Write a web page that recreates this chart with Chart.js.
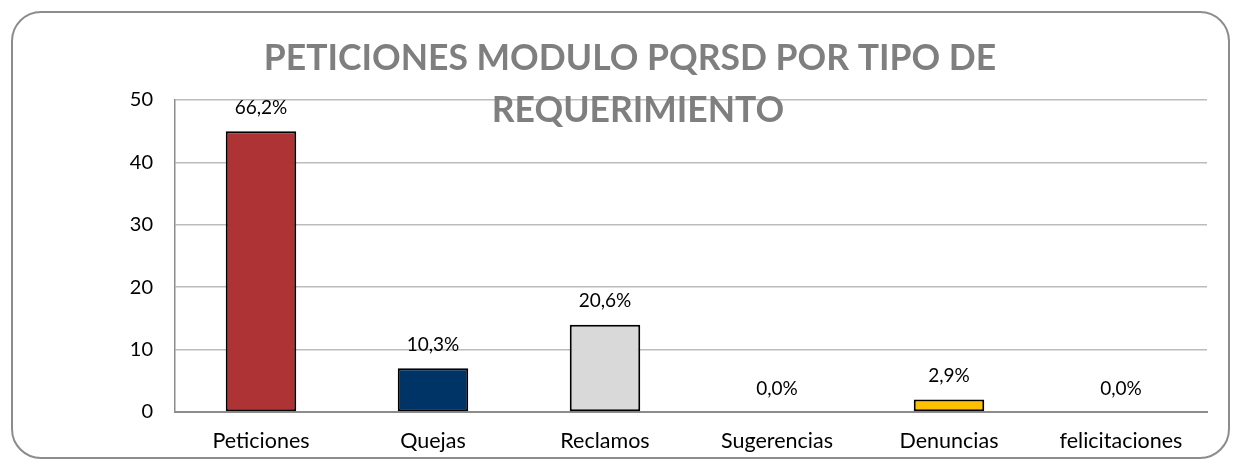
<!DOCTYPE html>
<html>
<head>
<meta charset="utf-8">
<script src="https://cdn.jsdelivr.net/npm/chart.js@4/dist/chart.umd.min.js"></script>
<style>
  html, body { margin: 0; padding: 0; background: #fff; }
  .wrap { position: relative; width: 1240px; height: 468px; }
  .frame { position: absolute; left: 11px; top: 11px; width: 1219px; height: 448px;
           border: 2px solid #8c8c8c; border-radius: 30px; box-sizing: border-box; }
  canvas { position: absolute; left: 0; top: 0; }
</style>
</head>
<body>
<div class="wrap">
  <div class="frame"></div>
  <canvas id="chart" width="1240" height="468"></canvas>
</div>
<script>
// Chart data
const categories = ['Peticiones', 'Quejas', 'Reclamos', 'Sugerencias', 'Denuncias', 'felicitaciones'];
const counts = [45, 7, 14, 0, 2, 0];
const barColors = ['#ad3334', '#003366', '#d9d9d9', '#d9d9d9', '#ffc000', '#d9d9d9'];
const yTicks = [0, 10, 20, 30, 40, 50];
const titleLines = ['PETICIONES MODULO PQRSD POR TIPO DE', 'REQUERIMIENTO'];

const total = counts.reduce((a, b) => a + b, 0);
const pct = v => (v / total * 100).toFixed(1).replace('.', ',') + '%';

const FONT = 'Lato, Calibri, sans-serif';

// percentage labels above each bar
const pctLabels = {
  id: 'pctLabels',
  afterDatasetsDraw(chart) {
    const ctx = chart.ctx;
    const meta = chart.getDatasetMeta(0);
    ctx.save();
    ctx.fillStyle = '#000';
    ctx.font = '19px ' + FONT;
    ctx.textAlign = 'center';
    ctx.textBaseline = 'bottom';
    meta.data.forEach((bar, i) => {
      ctx.fillText(pct(counts[i]), bar.x, bar.y - 14);
    });
    ctx.restore();
  }
};

// overlaid title like the Excel original
const overlayTitle = {
  id: 'overlayTitle',
  afterDraw(chart) {
    const ctx = chart.ctx;
    ctx.save();
    ctx.fillStyle = '#7f7f7f';
    ctx.font = 'bold 35.5px ' + FONT;
    ctx.textAlign = 'center';
    ctx.textBaseline = 'middle';
    ctx.fillText(titleLines[0], 630, 59);
    ctx.fillText(titleLines[1], 638, 111);
    ctx.restore();
  }
};

new Chart(document.getElementById('chart').getContext('2d'), {
  type: 'bar',
  data: {
    labels: categories,
    datasets: [{
      data: counts,
      backgroundColor: barColors,
      borderColor: '#000',
      borderWidth: ctx => (counts[ctx.dataIndex] > 0 ? 2 : 0),
      borderSkipped: false,
      barPercentage: 0.41,
      categoryPercentage: 1
    }]
  },
  options: {
    responsive: false,
    animation: false,
    layout: { padding: { top: 100, right: 33, left: 0, bottom: 0 } },
    plugins: { legend: { display: false }, tooltip: { enabled: false }, title: { display: false } },
    scales: {
      x: {
        grid: { display: false, drawTicks: false },
        border: { color: '#8c8c8c', width: 2 },
        ticks: { color: '#000', font: { family: FONT, size: 21.5 }, padding: 16 },
        afterFit: s => { s.height = 56; }
      },
      y: {
        min: 0, max: 50,
        afterBuildTicks: s => { s.ticks = yTicks.map(v => ({ value: v })); },
        grid: { color: '#bcbcbc', lineWidth: 1.5, drawTicks: false },
        border: { color: '#8c8c8c', width: 1.5 },
        ticks: { color: '#000', font: { family: FONT, size: 20 }, padding: 22 },
        afterFit: s => { s.width = 175; }
      }
    }
  },
  plugins: [pctLabels, overlayTitle]
});
</script>
</body>
</html>
